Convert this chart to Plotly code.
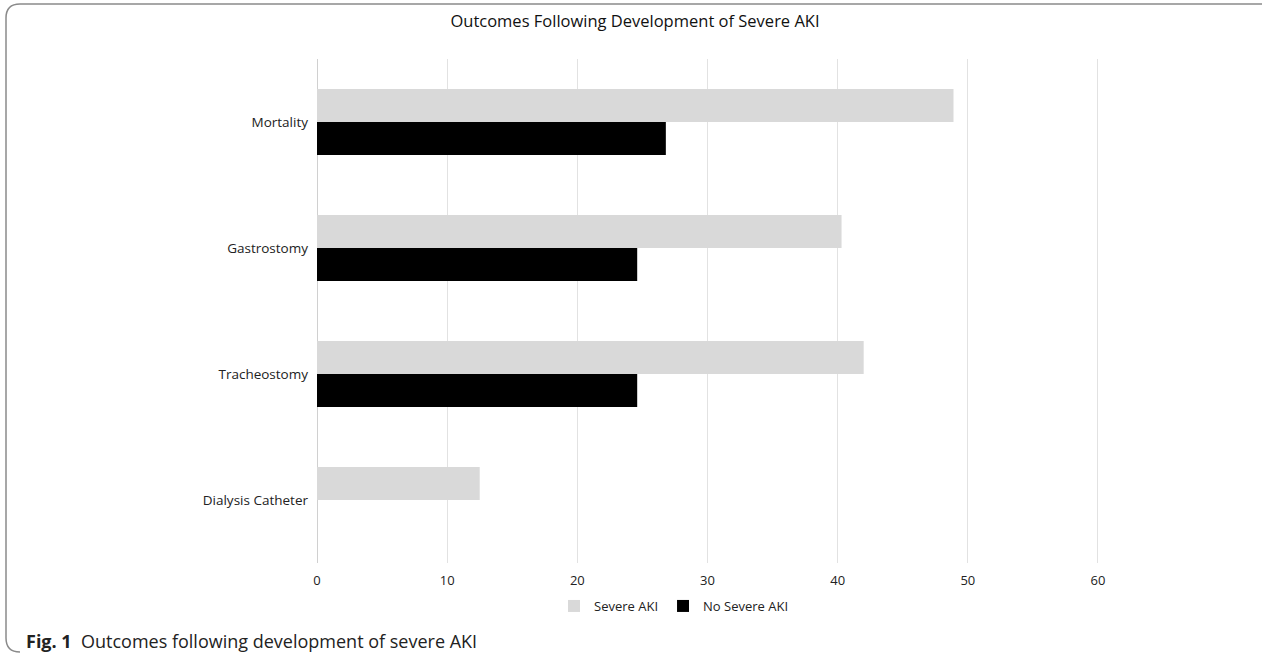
import plotly.graph_objects as go

categories = ["Mortality", "Gastrostomy", "Tracheostomy", "Dialysis Catheter"]
severe_aki = [48.9, 40.3, 42.0, 12.5]
no_severe_aki = [26.8, 24.6, 24.6, 0]
series_names = ["Severe AKI", "No Severe AKI"]
x_ticks = [0, 10, 20, 30, 40, 50, 60]

W, H = 1262, 656
L, T, B = 317, 59, 563
X_MAX = 61
R = round(L + 781 * X_MAX / 60)

def px(x):
    return (x - L) / (R - L)

def py(y):
    return (B - y) / (B - T)

fig = go.Figure()
fig.add_trace(go.Bar(y=categories, x=severe_aki, name=series_names[0], orientation="h",
                     marker=dict(color="#d9d9d9", line=dict(width=0))))
fig.add_trace(go.Bar(y=categories, x=no_severe_aki, name=series_names[1], orientation="h",
                     marker=dict(color="#000000", line=dict(width=0))))

# frame with rounded corners
r = 14
x0, y0, x1, y1 = 6, 4, 1300, 652
path = (f"M {px(x1)},{py(y0)} L {px(x0 + r)},{py(y0)} "
        f"Q {px(x0)},{py(y0)} {px(x0)},{py(y0 + r)} "
        f"L {px(x0)},{py(y1 - r)} Q {px(x0)},{py(y1)} {px(x0 + r)},{py(y1)}")

fig.update_layout(
    width=W, height=H,
    margin=dict(l=L, r=W - R, t=T, b=H - B),
    paper_bgcolor="white", plot_bgcolor="white",
    barmode="group", bargap=0.476, bargroupgap=0,
    font=dict(family="Open Sans, sans-serif", size=13, color="#262626"),
    title=dict(text="Outcomes Following Development of Severe AKI", x=635 / W, xanchor="center",
               y=1 - 21 / H, yanchor="middle",
               font=dict(family="Open Sans, sans-serif", size=16.5, color="#111")),
    xaxis=dict(range=[0, X_MAX], tickvals=x_ticks, showgrid=True, gridcolor="#e2e2e2", gridwidth=1,
               zeroline=True, zerolinecolor="#d0d0d0", zerolinewidth=1, showline=False,
               ticks="", ticklabelstandoff=8, tickfont=dict(size=13, color="#222")),
    yaxis=dict(autorange="reversed", showgrid=False, showline=False, ticks="",
               ticklabelstandoff=8, tickfont=dict(size=13.5, color="#222"),
               categoryorder="array", categoryarray=categories),
    legend=dict(orientation="h", x=px(674), xanchor="center", y=py(606), yanchor="middle",
                font=dict(size=13, color="#222"), traceorder="normal",
                itemwidth=30, tracegroupgap=0),
    shapes=[dict(type="path", xref="paper", yref="paper", path=path,
                 line=dict(color="#8a8a8a", width=1.5))],
    annotations=[dict(text="<b>Fig. 1</b>  Outcomes following development of severe AKI",
                      xref="paper", yref="paper", x=px(24), y=py(641), xanchor="left", yanchor="middle",
                      showarrow=False,
                      font=dict(family="Open Sans, sans-serif", size=18, color="#222"))],
)

fig.write_html("out.html")
